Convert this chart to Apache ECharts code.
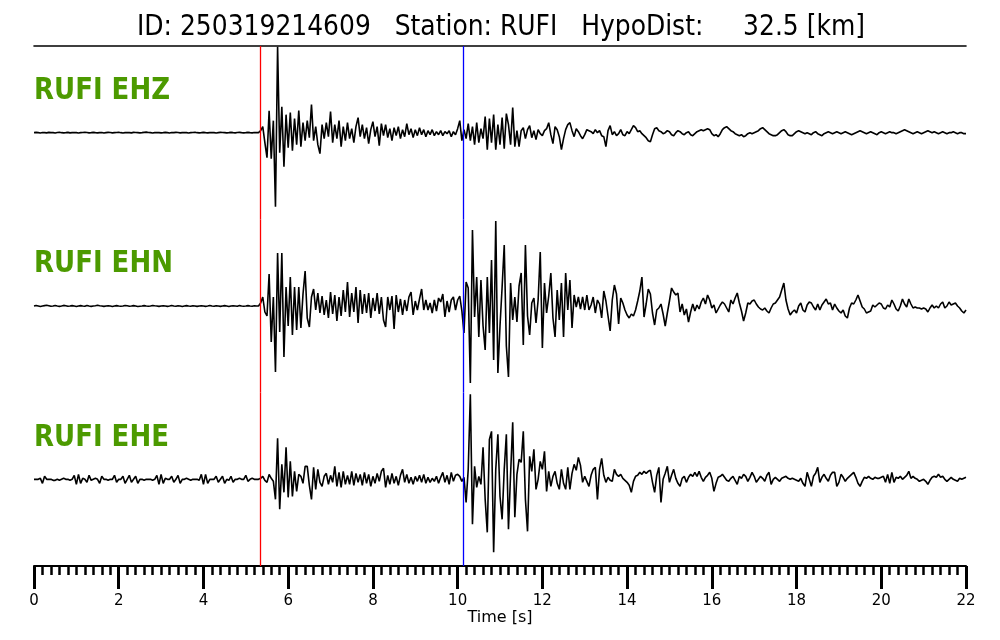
<!DOCTYPE html>
<html><head><meta charset="utf-8">
<script src="https://cdn.jsdelivr.net/npm/echarts@6/dist/echarts.min.js"></script>
<style>html,body{margin:0;padding:0;background:#fff}#c{width:1000px;height:640px}</style>
</head><body><div id="c"></div>
<script>
const titleText = 'ID: 250319214609   Station: RUFI   HypoDist:     32.5 [km]';
const channels = ['RUFI EHZ', 'RUFI EHN', 'RUFI EHE'];
const axisName = 'Time [s]';
const timeMin = 0, timeMax = 22, timeStep = 2;
const sampleInterval = 0.05;   // seconds between samples
const pickP = 5.35;            // red pick [s]
const pickS = 10.14;           // blue pick [s]

// amplitudes (arbitrary counts), one row per second
const ehz = [
0,0.3,0,-0.3,0.2,0,-0.2,0.3,0,0,-0.3,0.2,0.4,0,-0.2,0,0.3,-0.2,0,0.2,
0,-0.3,0,0.2,0.4,0.1,-0.2,0,0.3,0,-0.2,0,0.2,-0.3,0,0.3,0.1,-0.2,0,0.2,
0.4,0,-0.3,0,0.2,0,-0.2,0.3,0.1,0,-0.2,0,0.3,0.5,0.2,0,-0.3,0,0.2,0,
-0.2,0,0.3,0,-0.3,0.2,0,0.3,0.1,-0.2,0,0.2,0,-0.3,0,0.2,0.4,0,-0.2,0,
0.3,0,-0.2,0,0.2,0,-0.3,0,0.3,0.2,0,-0.2,0,0.3,0,-0.2,0.1,0.3,0,-0.2,
0,0.3,0,-0.2,0.2,0,0,2,6,-10,-25,22,-26,12,-74,86,-20,26,-34,18,
-15,20,-18,14,-12,22,-14,10,-8,12,-5,28,-8,6,-12,-21,8,-6,10,-4,
21,-10,8,-6,12,-14,6,-8,10,-6,4,-10,6,15,-4,8,-6,5,-11,3,
11,-4,6,-13,9,-3,8,-5,4,-8,5,-3,6,-6,3,-4,9,-2,4,-5,
3,-3,5,-2,3,-4,2,-2,3,-3,1,-2,2,-3,1,-1,2,-4,1,-2,
4,12,-8,3,-6,9,-8,6,-12,10,-10,4,-6,16,-17,14,-10,18,-17,8,
-12,15,-16,19,8,-12,25,-14,2,-14,2,5,-6,3,7,-5,2,-7,3,-1,
-3,2,4,10,-2,-11,6,3,-4,-17,-6,3,8,10,2,-4,4,1,-3,-6,
-2,3,2,1,-1,3,0,2,-3,-4,-14,2,7,-2,1,-3,-1,3,-2,-3,
1,-1,3,7,5,1,2,-1,-3,-5,-8,-9,-2,4,5,2,1,-1,0,2,
1,-2,-3,0,2,1,-1,-2,0,1,-2,-3,-1,1,2,3,2,3,4,3,
-1,-3,-2,-4,-1,3,5,6,4,2,1,-1,-2,-3,-2,-4,-3,-1,0,-1,
0,1,2,4,5,3,1,-1,-2,-3,-3,-2,0,2,3,1,-2,-3,-3,-1,
1,2,1,0,-1,0,-1,-2,0,1,-1,-2,-3,-1,0,1,0,-1,0,1,
0,-1,0,1,0,-1,-2,-1,0,1,2,1,0,-1,0,1,0,-1,-2,0,
1,0,-1,0,1,0,0,-1,0,1,2,3,2,1,0,-1,0,1,0,-1,
0,1,2,1,0,1,0,-1,0,1,0,-1,0,0,1,0,-1,0,0,-1,
-1];
const ehn = [
0,0.5,0,-0.5,0,0.4,0.8,0.3,-0.3,0,0.5,0,-0.4,0,0.6,0.2,-0.3,0,0.4,0,
-0.5,0,0.4,0,-0.3,0.5,0,-0.4,0,0.3,0.7,0.2,0,-0.4,0,0.3,0,-0.5,0,0.4,
0,-0.3,0,0.5,0.2,-0.3,0,0.4,0,-0.5,-0.2,0,0.4,0,-0.3,0,0.5,0.2,0,-0.4,
0,0.3,0,-0.4,0,0.5,0,-0.3,0.2,0,-0.5,0,0.4,0,-0.2,0.3,0,-0.4,0,0.3,
0,-0.4,0,0.5,0,-0.3,0.3,0,-0.4,0,0.4,0,-0.5,0,0.3,0,-0.3,0.4,0,-0.2,
0,0.4,0,-0.3,0.2,0,0,3,9,-6,-10,32,-36,9,-66,53,-26,53,-51,19,
-20,29,-29,19,-24,19,-22,12,35,-12,-21,9,17,-4,13,-7,10,-9,6,-12,
14,-8,11,-15,9,-10,16,-6,24,-11,13,-6,19,-17,16,-8,12,-7,13,-12,
8,-5,13,-8,9,-14,-21,9,-4,10,-23,11,-6,7,-9,6,-5,9,14,-9,
5,-4,7,17,-4,6,-4,3,-7,6,-5,8,4,12,-11,5,-6,6,9,-4,
6,10,-5,-27,24,18,-77,76,-11,29,-31,26,-20,-44,29,-27,46,-54,85,-67,
-20,19,61,-40,-71,23,-14,9,-16,20,33,-39,61,-10,-29,3,8,-17,6,54,
-42,23,-7,10,33,-12,-31,16,-14,23,-31,33,-4,26,-22,11,-1,9,-3,9,
-4,11,-4,1,9,-7,6,2,-12,15,5,-10,-25,6,21,12,-18,8,3,-4,
-9,-12,-8,-10,-4,5,15,29,-11,2,17,12,-7,-19,-4,-2,2,-8,-20,-7,
5,18,14,11,13,-6,2,-9,-3,-16,-6,2,-5,1,-3,4,8,2,11,6,
-2,1,-7,-3,1,4,2,-2,-6,6,2,8,13,3,-5,-15,-7,3,2,5,
6,2,-1,-3,-4,-2,-5,-7,-2,2,3,6,9,16,23,6,-3,-9,-6,-4,
-7,0,3,-4,-6,1,4,3,-1,-4,2,-4,1,4,7,2,3,-4,2,-2,
-5,-7,-4,-10,-12,-2,3,2,6,11,5,-1,-3,-7,-6,-5,1,-1,1,3,
2,-2,-3,1,-1,6,2,-3,-5,0,7,2,-1,7,2,-2,-1,-2,-2,-3,
-2,-3,-6,-2,1,-2,0,-2,2,4,-2,0,4,1,2,3,0,-2,-5,-7,
-4];
const ehe = [
0,0,0,1,-4,3,0,0,0,-1,-1,0,-1,0,1,0,0,-1,0,4,
-5,5,-4,1,0,-3,4,-1,0,1,0,-4,3,0,0,-1,0,0,4,-3,
0,0,3,-4,0,4,-3,0,3,-4,0,0,-1,0,0,0,-1,0,4,-5,
5,-4,1,0,0,3,-3,0,4,-4,0,0,1,0,-1,0,0,0,-1,5,
-5,5,-4,0,0,0,3,-3,0,3,-4,0,-1,3,-3,0,0,1,0,0,
4,-2,0,1,0,0,0,1,3,-1,-3,5,1,-2,-20,41,-30,15,-13,32,
-18,18,-17,8,-12,5,3,-4,13,13,-6,-20,12,-10,10,-3,-7,3,6,-5,
4,-3,13,-7,7,-8,8,-5,4,-5,8,-6,6,-3,5,-6,7,-4,5,-7,
3,-4,6,-2,8,11,-8,4,-5,6,-4,3,-6,4,10,-3,5,-4,2,-5,
3,-2,4,-3,5,-4,2,-3,1,-2,3,-4,2,7,-3,4,-5,7,-2,4,
5,3,-2,2,-23,10,85,-45,13,-8,3,-5,32,-20,-53,40,48,-73,10,45,
-17,-40,10,45,-50,5,57,-38,5,20,17,48,-20,-52,23,8,30,-10,0,18,
10,28,-12,8,-7,3,8,-4,-10,10,-4,-10,12,-10,6,15,9,22,14,-3,
3,-2,-7,4,10,12,-20,10,21,4,-3,2,-1,-2,10,5,3,5,1,-1,
-3,-6,-13,-2,3,4,7,5,8,6,8,9,-3,-13,4,12,-23,0,6,13,
-3,4,10,1,-4,-7,1,3,-3,2,5,3,7,3,8,2,-2,2,4,7,
1,-12,-4,2,3,5,2,-1,-2,1,3,-1,-5,3,1,5,3,-2,2,7,
3,-3,0,3,1,-2,4,7,-5,0,2,0,-2,1,2,3,1,0,1,0,
-1,-2,1,-4,-7,7,0,-7,3,6,12,-3,2,5,1,-2,4,7,7,-7,
-3,5,2,-2,1,3,5,7,2,-4,-7,-2,2,1,3,1,0,2,1,1,
2,3,-3,5,-4,7,-3,2,1,3,0,2,4,8,1,3,1,0,-2,-1,
0,-2,-5,-1,2,3,2,5,2,3,0,-2,0,2,0,-1,-2,1,0,1,
2];

const traces = [ehz, ehn, ehe];
const ampRange = 86.67;
const toPairs = a => a.map((v, i) => [+(i * sampleInterval).toFixed(2), v]);

const FONT = '"DejaVu Sans", "Liberation Sans", sans-serif';
const GRID_TOP = 46, GRID_H = 520 / 3;
const grids = traces.map((_, k) => ({ left: 34, right: 34, top: GRID_TOP + k * GRID_H, height: GRID_H }));

const xAxes = traces.map((_, k) => {
  const base = { gridIndex: k, type: 'value', min: timeMin, max: timeMax, interval: timeStep, splitLine: { show: false } };
  if (k === 0) return Object.assign(base, { position: 'top', axisLine: { show: true, onZero: false, lineStyle: { color: '#000', width: 1.6 } }, axisTick: { show: false }, axisLabel: { show: false } });
  if (k === traces.length - 1) return Object.assign(base, {
    position: 'bottom',
    axisLine: { show: true, onZero: false, lineStyle: { color: '#000', width: 2 } },
    axisTick: { show: true, length: 23, lineStyle: { color: '#000', width: 3 } },
    minorTick: { show: true, splitNumber: 10, length: 9, lineStyle: { color: '#000', width: 2.5 } },
    axisLabel: { show: true, margin: 28, color: '#000', fontSize: 15, fontFamily: FONT },
    name: axisName, nameLocation: 'middle', nameGap: 42,
    nameTextStyle: { color: '#000', fontSize: 16, fontFamily: FONT }
  });
  return Object.assign(base, { show: false });
});
const yAxes = traces.map((_, k) => ({ gridIndex: k, type: 'value', min: -ampRange, max: ampRange, show: false }));

const series = traces.map((tr, k) => ({
  type: 'line', xAxisIndex: k, yAxisIndex: k, data: toPairs(tr),
  showSymbol: false, symbol: 'none', clip: false, silent: true,
  lineStyle: { color: '#000', width: 1.6 },
  markLine: {
    silent: true, symbol: 'none', label: { show: false }, animation: false,
    data: [
      { xAxis: pickP, lineStyle: { color: '#ff0000', width: 1.3, type: 'solid' } },
      { xAxis: pickS, lineStyle: { color: '#0000ff', width: 1.3, type: 'solid' } }
    ]
  }
}));

const labelY = [91, 264.5, 438];
const graphic = [
  { type: 'text', x: 501, y: 27.2, scaleY: 1.16,
    style: { text: titleText, font: '25px ' + FONT, fill: '#000', align: 'center', verticalAlign: 'middle' } }
].concat(channels.map((c, k) => ({
  type: 'text', x: 34, y: labelY[k], scaleY: 1.14,
  style: { text: c, font: 'bold 26px ' + FONT, fill: '#4c9a00', verticalAlign: 'middle', align: 'left' }
})));

const chart = echarts.init(document.getElementById('c'), null, { renderer: 'canvas' });
chart.setOption({
  animation: false,
  backgroundColor: '#fff',
  grid: grids, xAxis: xAxes, yAxis: yAxes, series: series, graphic: graphic
});
</script></body></html>
